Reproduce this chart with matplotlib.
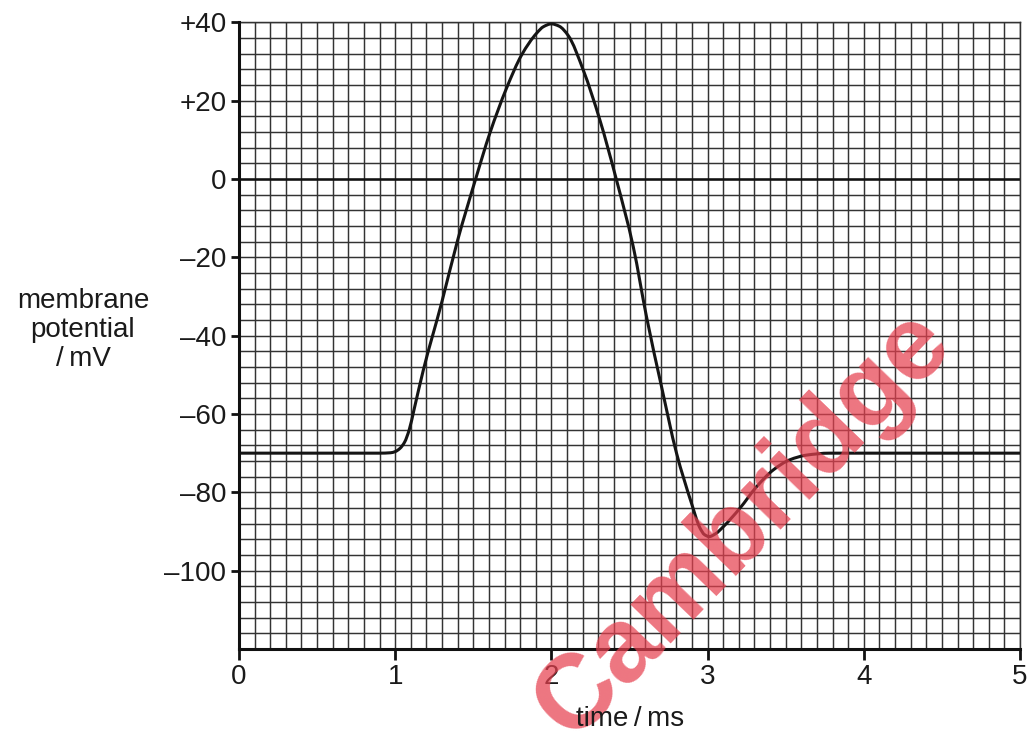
import matplotlib
matplotlib.use("Agg")
import matplotlib.pyplot as plt
import numpy as np
from matplotlib.path import Path
from matplotlib.patches import PathPatch
from matplotlib.ticker import MultipleLocator

plt.rcParams['font.family'] = ['Liberation Sans', 'DejaVu Sans']

# data (time / ms, membrane potential / mV)
time_ms = [0.0, 0.9, 0.97, 1.0, 1.03, 1.06, 1.09, 1.12, 1.18, 1.30, 1.40, 1.515,
           1.606, 1.713, 1.81, 1.905, 1.95, 2.0, 2.05, 2.108, 2.204, 2.31, 2.415,
           2.524, 2.609, 2.705, 2.801, 2.897, 2.95, 2.98, 3.01, 3.05, 3.1, 3.206,
           3.313, 3.42, 3.526, 3.633, 3.78, 5.0]
potential_mv = [-70, -70, -69.9, -69.6, -68.8, -67.2, -64.0, -59.0, -48.8, -31.2, -15.6, 0,
                11.7, 23.2, 31.7, 37.2, 38.9, 39.6, 39.0, 36.6, 27.8, 15.1, 0,
                -17.3, -35.2, -53, -70, -82.8, -89.0, -90.8, -91.3, -90.6, -88.8, -84.1,
                -78.6, -74.3, -71.7, -70.5, -70.0, -70.0]

y_tick_values = [40, 20, 0, -20, -40, -60, -80, -100]
y_tick_labels = ['+40', '+20', '0', '\u201320', '\u201340', '\u201360', '\u201380', '\u2013100']
x_tick_values = [0, 1, 2, 3, 4, 5]
x_tick_labels = ['0', '1', '2', '3', '4', '5']

W, H = 1032, 734
fig = plt.figure(figsize=(W / 100, H / 100), dpi=100)
ax = fig.add_axes([239 / W, 1 - 649 / H, (1020 - 239) / W, (649 - 22.3) / H])

ax.set_xlim(0, 5)
ax.set_ylim(-120, 40)

grid_color = '#333333'
ax.xaxis.set_minor_locator(MultipleLocator(0.1))
ax.yaxis.set_minor_locator(MultipleLocator(4))
ax.set_xticks(x_tick_values)
ax.set_xticklabels(x_tick_labels)
ax.set_yticks(y_tick_values)
ax.set_yticklabels(y_tick_labels)
ax.grid(which='both', color=grid_color, linewidth=1.05, zorder=0)
ax.set_axisbelow(True)

ax.tick_params(which='minor', length=0)
ax.tick_params(which='major', direction='out', width=2.0, color='#111111',
               labelsize=20, labelcolor='#1a1a1a')
ax.tick_params(axis='y', which='major', length=6, pad=3)
ax.tick_params(axis='x', which='major', length=8, pad=3)

for side in ['left', 'bottom']:
    ax.spines[side].set_linewidth(2.2)
    ax.spines[side].set_color('#111111')
    ax.spines[side].set_zorder(5)
for side in ['top', 'right']:
    ax.spines[side].set_linewidth(1.05)
    ax.spines[side].set_color(grid_color)

ax.axhline(0, color='#111111', linewidth=1.8, zorder=2)

# smooth curve through the read points: monotone cubic Hermite (PCHIP) drawn as Bezier path
x = np.asarray(time_ms, dtype=float)
y = np.asarray(potential_mv, dtype=float)
h = np.diff(x)
d = np.diff(y) / h
m = np.zeros_like(y)
for i in range(1, len(x) - 1):
    if d[i - 1] * d[i] <= 0:
        m[i] = 0.0
    else:
        w1 = 2 * h[i] + h[i - 1]
        w2 = h[i] + 2 * h[i - 1]
        m[i] = (w1 + w2) / (w1 / d[i - 1] + w2 / d[i])
m[0] = 0.0
m[-1] = 0.0
verts = [(x[0], y[0])]
codes = [Path.MOVETO]
for i in range(len(x) - 1):
    c1 = (x[i] + h[i] / 3, y[i] + m[i] * h[i] / 3)
    c2 = (x[i + 1] - h[i] / 3, y[i + 1] - m[i + 1] * h[i] / 3)
    verts += [c1, c2, (x[i + 1], y[i + 1])]
    codes += [Path.CURVE4] * 3
patch = PathPatch(Path(verts, codes), facecolor='none', edgecolor='#151515',
                  linewidth=2.2, zorder=3, capstyle='round', joinstyle='round')
ax.add_patch(patch)

# watermark
fig.text(744 / W, 1 - 524 / H, 'Cambridge', ha='center', va='center', rotation=46,
         fontsize=76, fontweight='bold', color='#e6404f', alpha=0.72, zorder=1,
         family=['Liberation Sans', 'DejaVu Sans'])

# axis labels
fig.text(83 / W, 1 - 330 / H, 'membrane\npotential\n/\u2009mV', ha='center', va='center',
         fontsize=20, color='#1a1a1a', linespacing=1.15, zorder=20,
         family=['Liberation Sans', 'DejaVu Sans'])
fig.text(630 / W, 1 - 719 / H, 'time\u2009/\u2009ms', ha='center', va='center',
         fontsize=20, color='#1a1a1a', zorder=20, family=['Liberation Sans', 'DejaVu Sans'])

fig.savefig('out.png', dpi=100, facecolor='white')
